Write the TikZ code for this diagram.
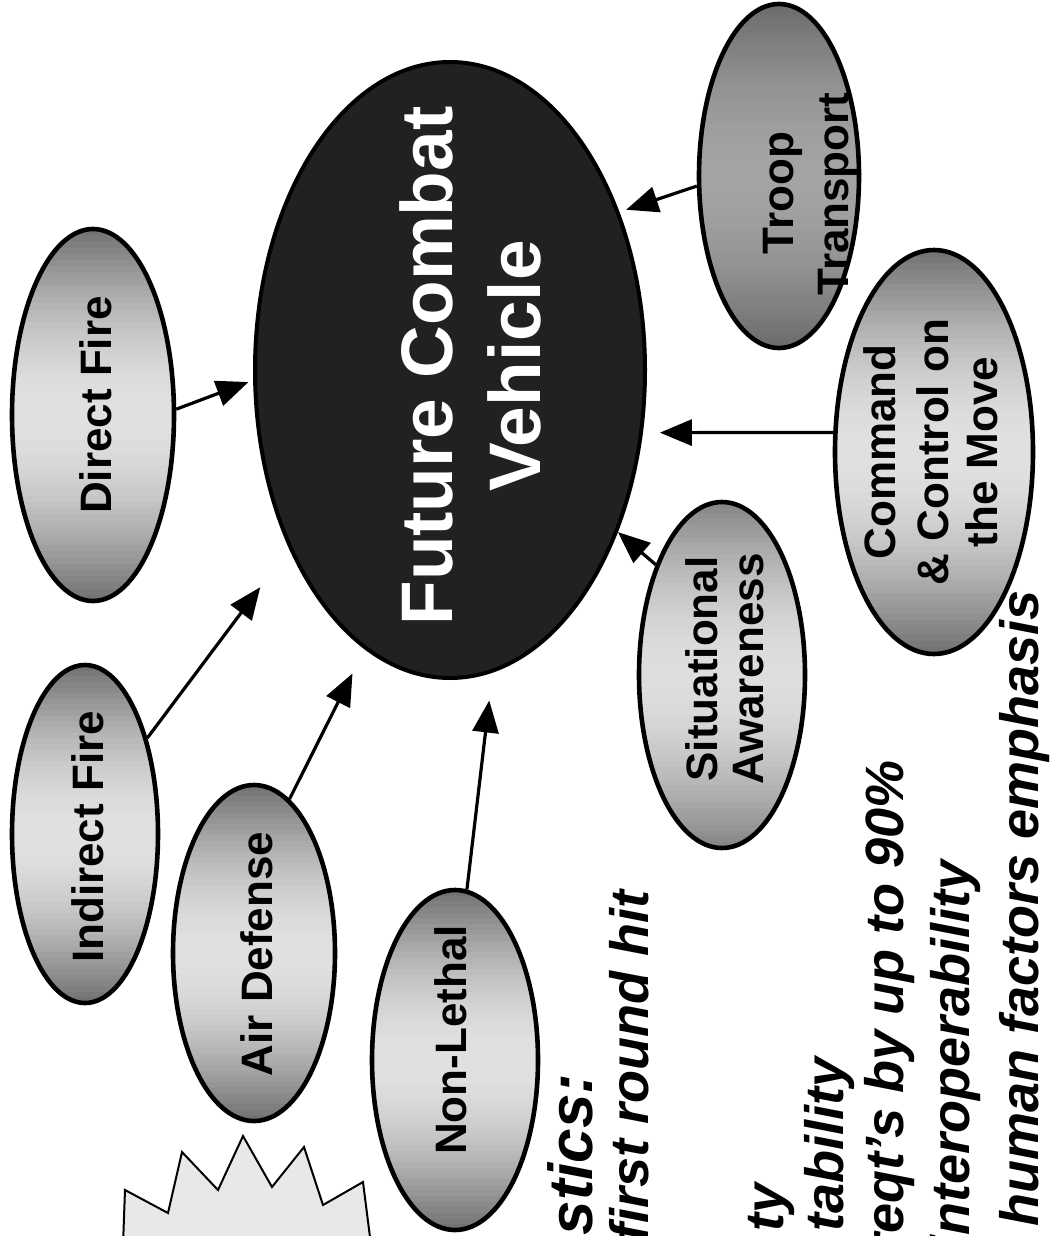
\documentclass[tikz,border=0pt]{standalone}
\usepackage{fontspec}
\setmainfont{Liberation Sans}
\usetikzlibrary{shapes.geometric, arrows.meta, calc}

\definecolor{hubfill}{gray}{0.13}
\definecolor{satdark}{gray}{0.44}
\definecolor{satlight}{gray}{0.88}
\definecolor{sadark}{gray}{0.52}
\definecolor{salight}{gray}{0.87}
\definecolor{troopdark}{gray}{0.42}
\definecolor{trooplight}{gray}{0.64}
\definecolor{burstfill}{gray}{0.91}

\begin{document}
\begin{tikzpicture}[x=0.5pt, y=-0.5pt,
  hub/.style={ellipse, draw=black, line width=2pt, fill=hubfill, inner sep=0pt},
  % oval with a banded grey fill: dark at both ends, light across the middle
  sat/.style 2 args={ellipse, draw=black, line width=2.3pt, inner sep=0pt,
    path picture={
      \foreach \k in {0,...,59}{
        \pgfmathsetmacro\mixp{100*sin(180*(\k+0.5)/60)}
        \pgfmathsetmacro\ta{\k/60}
        \pgfmathsetmacro\tb{(\k+1.3)/60}
        \fill[#2!\mixp!#1]
          ($(path picture bounding box.north west)!\ta!(path picture bounding box.south west)$)
          rectangle
          ($(path picture bounding box.north east)!\tb!(path picture bounding box.south east)$);
      }
    }},
  satlbl/.style={rotate=90, anchor=base, inner sep=0pt,
    font=\bfseries\fontsize{22}{26}\selectfont},
  hublbl/.style={rotate=90, anchor=base, inner sep=0pt, text=white,
    font=\bfseries\fontsize{36.5}{44}\selectfont},
  notes/.style={rotate=90, anchor=base east, inner sep=0pt,
    font=\bfseries\itshape\fontsize{27}{32}\selectfont},
  feed/.style={line width=1.6pt, -{Triangle[length=16pt, width=13pt]}},
]
\useasboundingbox (0,0) rectangle (1051,1236);
\clip (0,0) rectangle (1051,1236);
\fill[white] (0,0) rectangle (1051,1236);

% central vehicle
\node[hub, minimum width=195pt, minimum height=308pt] (fcv) at (450,370) {};
\node[hublbl] (fcvA) at (452,366) {Future Combat};
\node[hublbl] (fcvB) at (540,366) {Vehicle};

% mission modules
\node[sat={satdark}{satlight}, minimum width=81pt, minimum height=186pt] (df) at (93,415) {};
\node[satlbl] (dfL) at (111,405) {Direct Fire};

\node[sat={satdark}{satlight}, minimum width=73pt, minimum height=169pt] (inf) at (85,834) {};
\node[satlbl] (infL) at (103,837) {Indirect Fire};

\node[sat={satdark}{satlight}, minimum width=81pt, minimum height=168pt] (ad) at (254,953) {};
\node[satlbl] (adL) at (272,954) {Air Defense};

\node[sat={satdark}{satlight}, minimum width=83pt, minimum height=170pt] (nl) at (455,1060) {};
\node[satlbl] (nlL) at (466,1040) {Non-Lethal};

\node[sat={sadark}{salight}, minimum width=83pt, minimum height=173pt] (sa) at (722,675) {};
\node[satlbl] (saL1) at (717,669) {Situational};
\node[satlbl] (saL2) at (763,669) {Awareness};

\node[sat={satdark}{satlight}, minimum width=99pt, minimum height=202pt] (cc) at (934,452) {};
\node[satlbl] (ccL1) at (895,452) {Command};
\node[satlbl] (ccL2) at (948,452) {\& Control on};
\node[satlbl] (ccL3) at (997,452) {the Move};

\node[sat={troopdark}{trooplight}, minimum width=80pt, minimum height=172pt] (tt) at (779,176) {};
\node[satlbl] (ttL1) at (793,193) {Troop};
\node[satlbl] (ttL2) at (848,194) {Transport};

% feeds into the vehicle
\draw[feed, shorten >=2.5pt] (df.4) -- (fcv.183);
\draw[feed, shorten >=24pt] (inf.57) -- (fcv.228);
\draw[feed, shorten >=13.5pt] (ad.77) -- (fcv.253);
\draw[feed, shorten >=14pt] (nl.86) -- (fcv.278);
\draw[feed] (sa.121) -- (fcv.316);
\draw[feed, shorten >=8.5pt] (cc.169) -- (fcv.342);
\draw[feed, shorten >=3.5pt] (tt.187) -- (fcv.43.5);

% starburst callout
\filldraw[fill=burstfill, draw=black, line width=1pt]
  (123,1245) -- (125,1190) -- (168,1213) -- (182,1152) -- (218,1190)
  -- (243,1136) -- (272,1187) -- (304,1147) -- (323,1205) -- (363,1182)
  -- (371,1245) -- cycle;

% characteristics list
\node[notes, font=\bfseries\itshape\fontsize{31}{36}\selectfont] (n0) at (592,1073) {stics:};
\node[notes] (n1) at (648,890) {first round hit};
\node[notes] (n2) at (783,1183) {ty};
\node[notes] (n3) at (843,1057) {tability};
\node[notes] (n4) at (903,760) {reqt’s by up to 90\%};
\node[notes] (n5) at (969,860) {interoperability};
\node[notes] (n6) at (1038,590) {human factors emphasis};
\end{tikzpicture}
\end{document}
